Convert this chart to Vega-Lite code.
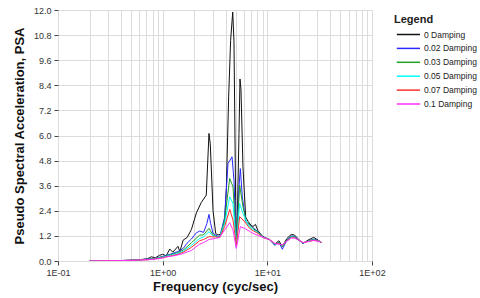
{
"$schema": "https://vega.github.io/schema/vega-lite/v6.json",
"width": 314, "height": 251,
"autosize": {"type": "none"},
"padding": {"left": 58, "top": 10, "right": 108, "bottom": 37},
"background": "white",
"config": {"font": "Liberation Sans", "view": {"stroke": null}},
"datasets": {
"s": [
{"d":"0 Damping","f":0.2,"v":0},{"d":"0 Damping","f":0.29,"v":0.01},{"d":"0 Damping","f":0.39,"v":0.02},{"d":"0 Damping","f":0.48,"v":0.03},{"d":"0 Damping","f":0.56,"v":0.05},{"d":"0 Damping","f":0.65,"v":0.08},{"d":"0 Damping","f":0.72,"v":0.11},{"d":"0 Damping","f":0.78,"v":0.2},{"d":"0 Damping","f":0.85,"v":0.15},{"d":"0 Damping","f":0.93,"v":0.27},{"d":"0 Damping","f":1.0,"v":0.32},{"d":"0 Damping","f":1.08,"v":0.25},{"d":"0 Damping","f":1.17,"v":0.57},{"d":"0 Damping","f":1.25,"v":0.42},{"d":"0 Damping","f":1.4,"v":0.7},{"d":"0 Damping","f":1.46,"v":0.45},{"d":"0 Damping","f":1.57,"v":1.0},{"d":"0 Damping","f":1.71,"v":1.12},{"d":"0 Damping","f":1.88,"v":1.5},{"d":"0 Damping","f":2.1,"v":2.3},{"d":"0 Damping","f":2.34,"v":2.8},{"d":"0 Damping","f":2.61,"v":3.15},{"d":"0 Damping","f":2.77,"v":6.1},{"d":"0 Damping","f":2.85,"v":5.6},{"d":"0 Damping","f":3.03,"v":2.4},{"d":"0 Damping","f":3.21,"v":1.32},{"d":"0 Damping","f":3.38,"v":1.24},{"d":"0 Damping","f":3.64,"v":1.3},{"d":"0 Damping","f":3.91,"v":1.9},{"d":"0 Damping","f":4.06,"v":3.5},{"d":"0 Damping","f":4.27,"v":7.85},{"d":"0 Damping","f":4.46,"v":10.55},{"d":"0 Damping","f":4.67,"v":11.9},{"d":"0 Damping","f":4.8,"v":10.5},{"d":"0 Damping","f":4.98,"v":2.9},{"d":"0 Damping","f":5.06,"v":0.7},{"d":"0 Damping","f":5.13,"v":1.3},{"d":"0 Damping","f":5.36,"v":6.1},{"d":"0 Damping","f":5.48,"v":8.7},{"d":"0 Damping","f":5.6,"v":8.2},{"d":"0 Damping","f":5.85,"v":4.5},{"d":"0 Damping","f":6.21,"v":2.1},{"d":"0 Damping","f":6.54,"v":1.9},{"d":"0 Damping","f":7.0,"v":1.7},{"d":"0 Damping","f":7.3,"v":1.65},{"d":"0 Damping","f":7.7,"v":1.75},{"d":"0 Damping","f":8.14,"v":1.45},{"d":"0 Damping","f":9.09,"v":1.16},{"d":"0 Damping","f":10.5,"v":1.03},{"d":"0 Damping","f":11.75,"v":0.8},{"d":"0 Damping","f":12.9,"v":0.97},{"d":"0 Damping","f":13.9,"v":0.7},{"d":"0 Damping","f":15.4,"v":1.08},{"d":"0 Damping","f":16.96,"v":1.27},{"d":"0 Damping","f":18.2,"v":1.24},{"d":"0 Damping","f":19.9,"v":1.03},{"d":"0 Damping","f":21.9,"v":0.84},{"d":"0 Damping","f":24.5,"v":1.0},{"d":"0 Damping","f":27.7,"v":1.13},{"d":"0 Damping","f":30.5,"v":1.0},{"d":"0 Damping","f":32.8,"v":0.89},
{"d":"0.02 Damping","f":0.2,"v":0},{"d":"0.02 Damping","f":0.39,"v":0.02},{"d":"0.02 Damping","f":0.56,"v":0.05},{"d":"0.02 Damping","f":0.72,"v":0.09},{"d":"0.02 Damping","f":0.85,"v":0.13},{"d":"0.02 Damping","f":1.0,"v":0.22},{"d":"0.02 Damping","f":1.19,"v":0.33},{"d":"0.02 Damping","f":1.4,"v":0.45},{"d":"0.02 Damping","f":1.57,"v":0.6},{"d":"0.02 Damping","f":1.71,"v":0.85},{"d":"0.02 Damping","f":1.88,"v":1.05},{"d":"0.02 Damping","f":2.1,"v":1.35},{"d":"0.02 Damping","f":2.26,"v":1.43},{"d":"0.02 Damping","f":2.46,"v":1.37},{"d":"0.02 Damping","f":2.65,"v":1.8},{"d":"0.02 Damping","f":2.77,"v":2.23},{"d":"0.02 Damping","f":2.87,"v":1.8},{"d":"0.02 Damping","f":3.03,"v":1.32},{"d":"0.02 Damping","f":3.5,"v":1.13},{"d":"0.02 Damping","f":3.91,"v":2.1},{"d":"0.02 Damping","f":4.21,"v":4.66},{"d":"0.02 Damping","f":4.6,"v":4.98},{"d":"0.02 Damping","f":4.8,"v":3.87},{"d":"0.02 Damping","f":5.06,"v":0.65},{"d":"0.02 Damping","f":5.36,"v":3.55},{"d":"0.02 Damping","f":5.52,"v":4.42},{"d":"0.02 Damping","f":5.77,"v":3.07},{"d":"0.02 Damping","f":6.21,"v":1.9},{"d":"0.02 Damping","f":7.3,"v":1.6},{"d":"0.02 Damping","f":8.14,"v":1.4},{"d":"0.02 Damping","f":9.09,"v":1.15},{"d":"0.02 Damping","f":10.5,"v":1.02},{"d":"0.02 Damping","f":11.75,"v":0.75},{"d":"0.02 Damping","f":12.9,"v":0.9},{"d":"0.02 Damping","f":13.9,"v":0.56},{"d":"0.02 Damping","f":15.4,"v":1.0},{"d":"0.02 Damping","f":16.96,"v":1.2},{"d":"0.02 Damping","f":18.2,"v":1.18},{"d":"0.02 Damping","f":19.9,"v":1.0},{"d":"0.02 Damping","f":21.9,"v":0.85},{"d":"0.02 Damping","f":24.5,"v":0.95},{"d":"0.02 Damping","f":27.7,"v":1.05},{"d":"0.02 Damping","f":30.5,"v":0.98},{"d":"0.02 Damping","f":32.8,"v":0.89},
{"d":"0.03 Damping","f":0.2,"v":0},{"d":"0.03 Damping","f":0.39,"v":0.02},{"d":"0.03 Damping","f":0.56,"v":0.05},{"d":"0.03 Damping","f":0.72,"v":0.08},{"d":"0.03 Damping","f":0.85,"v":0.12},{"d":"0.03 Damping","f":1.0,"v":0.2},{"d":"0.03 Damping","f":1.19,"v":0.3},{"d":"0.03 Damping","f":1.4,"v":0.4},{"d":"0.03 Damping","f":1.57,"v":0.52},{"d":"0.03 Damping","f":1.71,"v":0.68},{"d":"0.03 Damping","f":1.88,"v":0.87},{"d":"0.03 Damping","f":2.26,"v":1.24},{"d":"0.03 Damping","f":2.46,"v":1.25},{"d":"0.03 Damping","f":2.77,"v":1.56},{"d":"0.03 Damping","f":3.03,"v":1.24},{"d":"0.03 Damping","f":3.5,"v":1.12},{"d":"0.03 Damping","f":3.91,"v":1.96},{"d":"0.03 Damping","f":4.37,"v":3.95},{"d":"0.03 Damping","f":4.7,"v":3.55},{"d":"0.03 Damping","f":5.06,"v":0.76},{"d":"0.03 Damping","f":5.44,"v":3.63},{"d":"0.03 Damping","f":5.85,"v":2.6},{"d":"0.03 Damping","f":6.3,"v":1.88},{"d":"0.03 Damping","f":7.3,"v":1.56},{"d":"0.03 Damping","f":8.14,"v":1.38},{"d":"0.03 Damping","f":9.09,"v":1.14},{"d":"0.03 Damping","f":10.5,"v":1.02},{"d":"0.03 Damping","f":11.75,"v":0.8},{"d":"0.03 Damping","f":12.9,"v":0.88},{"d":"0.03 Damping","f":13.9,"v":0.68},{"d":"0.03 Damping","f":15.4,"v":0.98},{"d":"0.03 Damping","f":16.96,"v":1.18},{"d":"0.03 Damping","f":18.2,"v":1.15},{"d":"0.03 Damping","f":19.9,"v":1.0},{"d":"0.03 Damping","f":21.9,"v":0.86},{"d":"0.03 Damping","f":24.5,"v":0.95},{"d":"0.03 Damping","f":27.7,"v":1.02},{"d":"0.03 Damping","f":30.5,"v":0.97},{"d":"0.03 Damping","f":32.8,"v":0.89},
{"d":"0.05 Damping","f":0.2,"v":0},{"d":"0.05 Damping","f":0.39,"v":0.02},{"d":"0.05 Damping","f":0.56,"v":0.04},{"d":"0.05 Damping","f":0.72,"v":0.07},{"d":"0.05 Damping","f":0.85,"v":0.11},{"d":"0.05 Damping","f":1.0,"v":0.18},{"d":"0.05 Damping","f":1.19,"v":0.27},{"d":"0.05 Damping","f":1.4,"v":0.36},{"d":"0.05 Damping","f":1.57,"v":0.47},{"d":"0.05 Damping","f":1.71,"v":0.6},{"d":"0.05 Damping","f":1.88,"v":0.75},{"d":"0.05 Damping","f":2.26,"v":1.08},{"d":"0.05 Damping","f":2.46,"v":1.15},{"d":"0.05 Damping","f":2.77,"v":1.4},{"d":"0.05 Damping","f":3.03,"v":1.2},{"d":"0.05 Damping","f":3.5,"v":1.12},{"d":"0.05 Damping","f":3.91,"v":1.8},{"d":"0.05 Damping","f":4.37,"v":3.07},{"d":"0.05 Damping","f":4.7,"v":2.75},{"d":"0.05 Damping","f":5.06,"v":0.7},{"d":"0.05 Damping","f":5.44,"v":2.75},{"d":"0.05 Damping","f":5.85,"v":2.28},{"d":"0.05 Damping","f":6.54,"v":1.72},{"d":"0.05 Damping","f":7.3,"v":1.5},{"d":"0.05 Damping","f":8.14,"v":1.35},{"d":"0.05 Damping","f":9.09,"v":1.13},{"d":"0.05 Damping","f":10.5,"v":1.02},{"d":"0.05 Damping","f":11.75,"v":0.82},{"d":"0.05 Damping","f":12.9,"v":0.85},{"d":"0.05 Damping","f":13.9,"v":0.72},{"d":"0.05 Damping","f":15.4,"v":0.97},{"d":"0.05 Damping","f":16.96,"v":1.15},{"d":"0.05 Damping","f":18.2,"v":1.13},{"d":"0.05 Damping","f":19.9,"v":1.0},{"d":"0.05 Damping","f":21.9,"v":0.87},{"d":"0.05 Damping","f":24.5,"v":0.94},{"d":"0.05 Damping","f":27.7,"v":1.0},{"d":"0.05 Damping","f":30.5,"v":0.96},{"d":"0.05 Damping","f":32.8,"v":0.89},
{"d":"0.07 Damping","f":0.2,"v":0},{"d":"0.07 Damping","f":0.39,"v":0.02},{"d":"0.07 Damping","f":0.56,"v":0.04},{"d":"0.07 Damping","f":0.72,"v":0.06},{"d":"0.07 Damping","f":0.85,"v":0.1},{"d":"0.07 Damping","f":1.0,"v":0.16},{"d":"0.07 Damping","f":1.19,"v":0.24},{"d":"0.07 Damping","f":1.4,"v":0.32},{"d":"0.07 Damping","f":1.57,"v":0.42},{"d":"0.07 Damping","f":1.71,"v":0.53},{"d":"0.07 Damping","f":1.88,"v":0.65},{"d":"0.07 Damping","f":2.26,"v":0.97},{"d":"0.07 Damping","f":2.46,"v":1.03},{"d":"0.07 Damping","f":2.77,"v":1.16},{"d":"0.07 Damping","f":3.21,"v":1.15},{"d":"0.07 Damping","f":3.5,"v":1.12},{"d":"0.07 Damping","f":3.91,"v":1.64},{"d":"0.07 Damping","f":4.37,"v":2.47},{"d":"0.07 Damping","f":4.7,"v":1.96},{"d":"0.07 Damping","f":5.06,"v":0.76},{"d":"0.07 Damping","f":5.44,"v":2.12},{"d":"0.07 Damping","f":6.07,"v":1.88},{"d":"0.07 Damping","f":6.78,"v":1.56},{"d":"0.07 Damping","f":7.3,"v":1.45},{"d":"0.07 Damping","f":8.14,"v":1.32},{"d":"0.07 Damping","f":9.09,"v":1.12},{"d":"0.07 Damping","f":10.5,"v":1.02},{"d":"0.07 Damping","f":11.75,"v":0.84},{"d":"0.07 Damping","f":12.9,"v":0.83},{"d":"0.07 Damping","f":13.9,"v":0.75},{"d":"0.07 Damping","f":15.4,"v":0.96},{"d":"0.07 Damping","f":16.96,"v":1.12},{"d":"0.07 Damping","f":18.2,"v":1.11},{"d":"0.07 Damping","f":19.9,"v":1.0},{"d":"0.07 Damping","f":21.9,"v":0.88},{"d":"0.07 Damping","f":24.5,"v":0.93},{"d":"0.07 Damping","f":27.7,"v":0.99},{"d":"0.07 Damping","f":30.5,"v":0.95},{"d":"0.07 Damping","f":32.8,"v":0.89},
{"d":"0.1 Damping","f":0.2,"v":0},{"d":"0.1 Damping","f":0.39,"v":0.02},{"d":"0.1 Damping","f":0.56,"v":0.04},{"d":"0.1 Damping","f":0.72,"v":0.06},{"d":"0.1 Damping","f":0.85,"v":0.09},{"d":"0.1 Damping","f":1.0,"v":0.14},{"d":"0.1 Damping","f":1.08,"v":0.2},{"d":"0.1 Damping","f":1.19,"v":0.22},{"d":"0.1 Damping","f":1.4,"v":0.29},{"d":"0.1 Damping","f":1.57,"v":0.36},{"d":"0.1 Damping","f":1.71,"v":0.43},{"d":"0.1 Damping","f":1.88,"v":0.5},{"d":"0.1 Damping","f":2.26,"v":0.81},{"d":"0.1 Damping","f":2.46,"v":0.88},{"d":"0.1 Damping","f":2.77,"v":1.03},{"d":"0.1 Damping","f":3.21,"v":1.08},{"d":"0.1 Damping","f":3.5,"v":1.13},{"d":"0.1 Damping","f":3.91,"v":1.48},{"d":"0.1 Damping","f":4.37,"v":1.83},{"d":"0.1 Damping","f":4.7,"v":1.48},{"d":"0.1 Damping","f":5.06,"v":0.6},{"d":"0.1 Damping","f":5.52,"v":1.64},{"d":"0.1 Damping","f":6.07,"v":1.56},{"d":"0.1 Damping","f":7.3,"v":1.32},{"d":"0.1 Damping","f":8.14,"v":1.22},{"d":"0.1 Damping","f":9.09,"v":1.13},{"d":"0.1 Damping","f":10.5,"v":1.02},{"d":"0.1 Damping","f":11.75,"v":0.85},{"d":"0.1 Damping","f":12.9,"v":0.8},{"d":"0.1 Damping","f":13.9,"v":0.78},{"d":"0.1 Damping","f":15.4,"v":0.95},{"d":"0.1 Damping","f":16.96,"v":1.1},{"d":"0.1 Damping","f":18.2,"v":1.1},{"d":"0.1 Damping","f":19.9,"v":1.0},{"d":"0.1 Damping","f":21.9,"v":0.88},{"d":"0.1 Damping","f":24.5,"v":0.93},{"d":"0.1 Damping","f":27.7,"v":0.98},{"d":"0.1 Damping","f":30.5,"v":0.95},{"d":"0.1 Damping","f":32.8,"v":0.89}
]
},
"data": {"name": "s"},
"mark": {"type": "line", "strokeWidth": 1, "clip": true},
"encoding": {
"x": {"field": "f", "type": "quantitative",
 "scale": {"type": "log", "domain": [0.1, 100], "nice": false},
 "axis": {"values": [0.1,0.2,0.3,0.4,0.5,0.6,0.7,0.8,0.9,1,2,3,4,5,6,7,8,9,10,20,30,40,50,60,70,80,90,100],
  "labelExpr": "datum.value==0.1?'1E-01':datum.value==1?'1E+00':datum.value==10?'1E+01':datum.value==100?'1E+02':''",
  "labelOverlap": false, "labelFlush": false, "labelFontSize": 9, "labelColor": "#333", "labelPadding": 3,
  "domain": false, "grid": true, "gridColor": "#dcdcdc", "gridWidth": 1,
  "tickColor": "#444", "tickSize": 4,
  "tickOpacity": {"condition": {"test": "datum.value==0.1||datum.value==1||datum.value==10||datum.value==100", "value": 1}, "value": 0},
  "title": "Frequency (cyc/sec)", "titleFontSize": 13, "titleFontWeight": "bold", "titleColor": "#111", "titlePadding": 3}},
"y": {"field": "v", "type": "quantitative",
 "scale": {"domain": [0, 12], "nice": false},
 "axis": {"values": [0,1.2,2.4,3.6,4.8,6,7.2,8.4,9.6,10.8,12], "format": ".1f",
  "labelFontSize": 9, "labelColor": "#333", "labelPadding": 3,
  "domain": false, "grid": true, "gridColor": "#dcdcdc", "gridWidth": 1,
  "tickColor": "#444", "tickSize": 4,
  "title": "Pseudo Spectral Acceleration, PSA", "titleFontSize": 13, "titleFontWeight": "bold", "titleColor": "#111", "titlePadding": 7}},
"color": {"field": "d", "type": "nominal",
 "scale": {"domain": ["0 Damping","0.02 Damping","0.03 Damping","0.05 Damping","0.07 Damping","0.1 Damping"],
  "range": ["#111111","#2828ff","#22a022","#00ffff","#ff3030","#ff30ff"]},
 "legend": {"title": "Legend", "orient": "none", "legendX": 336, "legendY": 4,
  "titleFontSize": 11, "titleFontWeight": "bold", "titleColor": "#222", "titlePadding": 4,
  "labelFontSize": 8.5, "labelColor": "#222", "labelOffset": 19,
  "symbolType": "M-0.6,0H4.55", "symbolSize": 81, "symbolStrokeWidth": 1.5, "rowPadding": 3.9, "padding": 0}}
}
}
